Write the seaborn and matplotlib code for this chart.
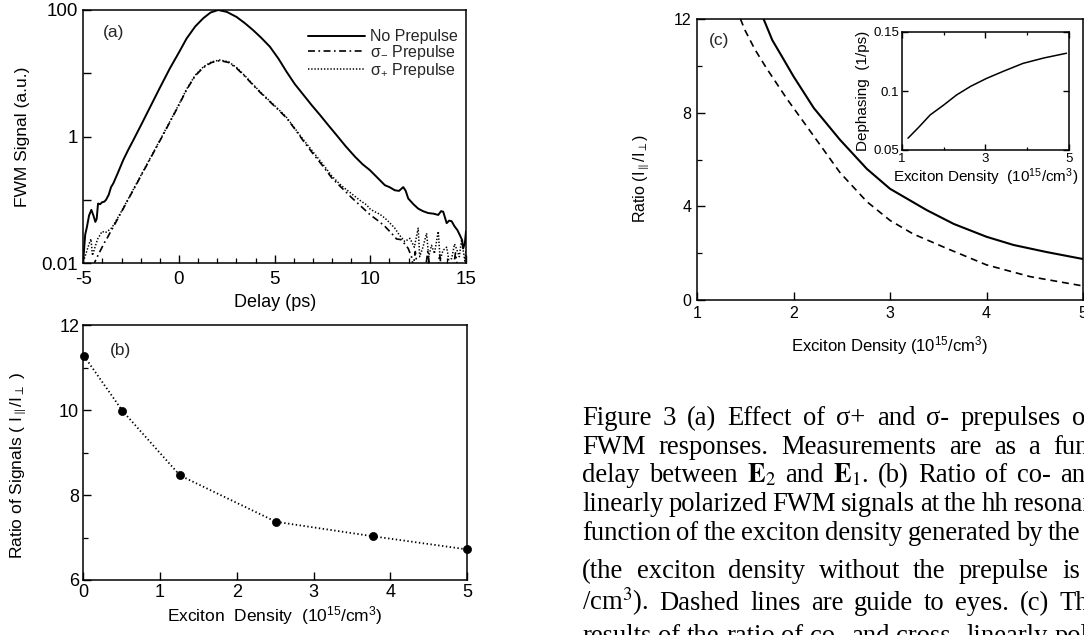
import numpy as np
import matplotlib
matplotlib.use("Agg")
import matplotlib.pyplot as plt
from matplotlib.ticker import FixedLocator, FixedFormatter, NullLocator
import seaborn as sns

# ---------------- (a) FWM signal versus delay (log10 of signal, a.u.) ----------------
delay_none = [-5.00, -4.98, -4.90, -4.81, -4.70, -4.58, -4.47, -4.37, -4.30, -4.23, -4.12, -4.02,
              -3.90, -3.81, -3.67, -3.55, -3.43, -3.20, -2.91, -2.65, -2.39, -2.00, -1.50, -1.00,
              -0.47, 0.00, 0.40, 0.85, 1.27, 1.65, 2.05, 2.50, 3.01, 3.45, 3.88, 4.30, 4.75, 5.20,
              5.63, 6.05, 6.50, 6.95, 7.37, 7.80, 8.24, 8.70, 9.20, 9.60, 9.97, 10.40, 10.76, 11.00,
              11.28, 11.50, 11.72, 11.85, 11.98, 12.25, 12.50, 12.75, 13.02, 13.30, 13.55, 13.70,
              13.81, 13.99, 14.12, 14.25, 14.40, 14.55, 14.68, 14.80, 14.85, 14.94, 15.00]
log_fwm_none = [-1.95, -1.87, -1.55, -1.43, -1.25, -1.16, -1.25, -1.35, -1.30, -1.06, -1.07, -1.04,
                -1.03, -1.00, -0.92, -0.80, -0.74, -0.58, -0.37, -0.21, -0.06, 0.17, 0.47, 0.77,
                1.08, 1.33, 1.55, 1.74, 1.87, 1.96, 2.00, 1.97, 1.89, 1.79, 1.68, 1.56, 1.42, 1.23,
                1.02, 0.83, 0.66, 0.49, 0.34, 0.18, 0.02, -0.15, -0.32, -0.44, -0.53, -0.66, -0.77, -0.80,
                -0.85, -0.86, -0.80, -0.86, -0.98, -1.07, -1.14, -1.18, -1.21, -1.22, -1.24, -1.18,
                -1.19, -1.37, -1.33, -1.34, -1.42, -1.48, -1.56, -1.64, -1.77, -1.69, -1.50]

delay_sminus = [-4.50, -4.30, -4.10, -3.90, -3.76, -3.60, -3.45, -3.00, -2.50, -2.00, -1.50, -1.00,
                -0.47, 0.00, 0.40, 0.85, 1.27, 1.70, 2.14, 2.60, 3.01, 3.45, 3.88, 4.30, 4.75, 5.20,
                5.63, 6.05, 6.50, 7.00, 7.50, 8.00, 8.50, 9.00, 9.50, 10.00, 10.40, 10.76, 11.20, 11.37,
                11.60, 11.80, 11.98, 12.15, 12.25, 12.35, 12.45, 12.90, 13.00, 13.10, 13.55, 13.62,
                13.70, 14.35, 14.45, 14.55, 15.00]
log_fwm_sminus = [-2.05, -1.92, -1.80, -1.68, -1.61, -1.52, -1.44, -1.19, -0.91, -0.63, -0.35, -0.07,
                  0.23, 0.50, 0.74, 0.96, 1.09, 1.17, 1.20, 1.17, 1.08, 0.95, 0.81, 0.68, 0.55, 0.42,
                  0.29, 0.12, -0.07, -0.27, -0.46, -0.66, -0.81, -0.96, -1.10, -1.24, -1.33, -1.42, -1.56, -1.62,
                  -1.63, -1.70, -1.77, -1.90, -2.05, -1.82, -2.05, -2.05, -1.82, -2.05, -2.05, -1.86,
                  -2.05, -2.05, -1.84, -2.05, -2.05]

delay_splus = [-5.00, -4.85, -4.70, -4.60, -4.52, -4.40, -4.25, -4.13, -4.02, -3.85, -3.70, -3.50,
               -3.00, -2.50, -2.00, -1.50, -1.00, -0.47, 0.00, 0.40, 0.85, 1.27, 1.70, 2.14, 2.60,
               3.01, 3.45, 3.88, 4.30, 4.75, 5.20, 5.63, 6.05, 6.50, 7.00, 7.50, 8.00, 8.50, 9.00,
               9.46, 9.80, 10.00, 10.30, 10.50, 10.76, 11.00, 11.28, 11.50, 11.80, 12.07, 12.30, 12.50,
               12.58, 12.75, 12.94, 13.05, 13.20, 13.35, 13.55, 13.65, 13.80, 13.99, 14.10, 14.25,
               14.40, 14.51, 14.65, 14.77, 14.94, 15.00]
log_fwm_splus = [-1.98, -1.84, -1.70, -1.62, -1.88, -1.76, -1.62, -1.56, -1.50, -1.52, -1.49, -1.44,
                 -1.18, -0.90, -0.62, -0.34, -0.06, 0.24, 0.51, 0.75, 0.97, 1.10, 1.18, 1.21, 1.18,
                 1.09, 0.96, 0.82, 0.69, 0.56, 0.43, 0.30, 0.13, -0.05, -0.24, -0.43, -0.63, -0.78, -0.90,
                 -1.01, -1.08, -1.15, -1.20, -1.23, -1.29, -1.36, -1.45, -1.55, -1.66, -1.61, -1.75, -1.45,
                 -1.90, -1.75, -1.53, -1.90, -1.72, -1.85, -1.50, -1.95, -1.80, -1.75, -1.95, -1.93,
                 -1.70, -1.78, -1.90, -1.63, -1.97, -1.80]

legend_labels = ["No Prepulse", r"σ$_{-}$ Prepulse", r"σ$_{+}$ Prepulse"]
delay_ticks = [-5, 0, 5, 10, 15]
signal_ticks = [0.01, 0.1, 1, 10, 100]
signal_ticklabels = ["0.01", "", "1", "", "100"]

# ---------------- (b) measured ratio of co- to cross-polarized signals ----------------
density_b = [0.01, 0.51, 1.26, 2.51, 3.77, 5.00]
ratio_b = [11.27, 9.98, 8.46, 7.37, 7.03, 6.72]

# ---------------- (c) calculated ratio and dephasing (inset) ----------------
density_c_solid = [1.69, 1.78, 1.88, 2.00, 2.21, 2.48, 2.76, 3.00, 3.38, 3.66, 4.00, 4.28, 4.62, 5.00]
ratio_c_solid = [12.0, 11.1, 10.4, 9.55, 8.2, 6.85, 5.6, 4.75, 3.84, 3.25, 2.7, 2.35, 2.05, 1.75]
density_c_dashed = [1.45, 1.50, 1.60, 1.72, 1.93, 2.21, 2.48, 2.76, 3.00, 3.24, 3.59, 4.00, 4.45, 5.00]
ratio_c_dashed = [12.0, 11.5, 10.7, 9.9, 8.6, 7.0, 5.45, 4.2, 3.4, 2.82, 2.2, 1.5, 1.0, 0.6]
density_inset = [1.15, 1.40, 1.68, 2.00, 2.31, 2.65, 3.03, 3.45, 3.90, 4.40, 4.94]
dephasing_inset = [0.060, 0.069, 0.0797, 0.088, 0.0966, 0.104, 0.1107, 0.117, 0.1234, 0.128, 0.132]

# caption, one list of words per printed line
caption_lines = [
    ["Figure", "3", "(a)", "Effect", "of", "σ+", "and", "σ-", "prepulses", "on", "the"],
    ["FWM", "responses.", "Measurements", "are", "as", "a", "function", "of", "the"],
    ["delay", "between", r"$\mathbf{E}_2$", "and", r"$\mathbf{E}_1$.", "(b)", "Ratio", "of", "co-",
     "and", "cross-"],
    ["linearly", "polarized", "FWM", "signals", "at", "the", "hh", "resonance", "as", "a"],
    ["function", "of", "the", "exciton", "density", "generated", "by", "the", "prepulse"],
    ["(the", "exciton", "density", "without", "the", "prepulse", "is"],
    [r"/cm$^3$).", "Dashed", "lines", "are", "guide", "to", "eyes.", "(c)", "The"],
    ["results", "of", "the", "ratio", "of", "co-", "and", "cross-", "linearly", "polarized"],
]

# ---------------- styling ----------------
sns.set_theme(style="ticks")
plt.rcParams.update({
    "font.family": ["Liberation Sans", "DejaVu Sans"],
    "mathtext.fontset": "custom",
    "mathtext.rm": "Liberation Sans",
    "mathtext.it": "Liberation Sans:italic",
    "mathtext.bf": "Liberation Sans:bold",
    "axes.unicode_minus": False,
    "axes.edgecolor": "black",
    "axes.linewidth": 1.1,
    "axes.labelcolor": "black",
    "xtick.color": "black",
    "ytick.color": "black",
    "xtick.direction": "in",
    "ytick.direction": "in",
    "xtick.major.size": 6,
    "ytick.major.size": 6,
    "xtick.minor.size": 3.5,
    "ytick.minor.size": 3.5,
    "xtick.major.width": 1.0,
    "ytick.major.width": 1.0,
    "xtick.minor.width": 0.9,
    "ytick.minor.width": 0.9,
    "lines.scale_dashes": False,
    "axes.facecolor": "white",
    "figure.facecolor": "white",
})

W, H = 1084, 635
fig = plt.figure(figsize=(W / 100, H / 100), dpi=100)


def frame(left, top, right, bottom):
    return [left / W, 1 - bottom / H, (right - left) / W, (bottom - top) / H]


# ---------------- panel (a) ----------------
ax_a = fig.add_axes(frame(83.3, 10, 466, 263))
sns.lineplot(x=delay_none, y=10 ** np.array(log_fwm_none), ax=ax_a, color="black", lw=1.4,
             estimator=None, sort=False, label=legend_labels[0])
sns.lineplot(x=delay_sminus, y=10 ** np.array(log_fwm_sminus), ax=ax_a, color="black", lw=1.2,
             estimator=None, sort=False, linestyle=(0, (5, 2.5, 1.2, 2.5)), label=legend_labels[1])
sns.lineplot(x=delay_splus, y=10 ** np.array(log_fwm_splus), ax=ax_a, color="black", lw=1.1,
             estimator=None, sort=False, linestyle=(0, (1.0, 1.3)), label=legend_labels[2])
ax_a.set_yscale("log")
ax_a.set_xlim(-5, 15)
ax_a.set_ylim(0.01, 100)
ax_a.yaxis.set_major_locator(FixedLocator(signal_ticks))
ax_a.yaxis.set_major_formatter(FixedFormatter(signal_ticklabels))
ax_a.yaxis.set_minor_locator(NullLocator())
ax_a.xaxis.set_major_locator(FixedLocator(delay_ticks))
ax_a.xaxis.set_minor_locator(FixedLocator(list(range(-5, 16))))
ax_a.tick_params(labelsize=13.5)
ax_a.tick_params(axis="x", pad=6)
ax_a.tick_params(axis="y", pad=4)
ax_a.set_xlabel("Delay (ps)", fontsize=13, labelpad=4)
ax_a.set_ylabel("FWM Signal (a.u.)", fontsize=12.5, labelpad=8)
ax_a.text(0.05, 0.94, "(a)", transform=ax_a.transAxes, fontsize=12.5, va="top")
handles, labels = ax_a.get_legend_handles_labels()
ax_a.legend(handles, labels, loc="upper right", bbox_to_anchor=(1.008, 0.968), frameon=False,
            fontsize=11.5, handlelength=3.6, handletextpad=0.3, labelspacing=-0.08,
            borderaxespad=0.3)

# ---------------- panel (b) ----------------
ax_b = fig.add_axes(frame(83.3, 325, 467, 580))
sns.lineplot(x=density_b, y=ratio_b, ax=ax_b, color="black", lw=1.3, estimator=None, sort=False,
             linestyle=(0, (1.0, 1.8)))
sns.scatterplot(x=density_b, y=ratio_b, ax=ax_b, color="black", s=34, edgecolor="black",
                linewidth=0.5, zorder=5, clip_on=False)
ax_b.set_xlim(0, 5)
ax_b.set_ylim(6, 12)
ax_b.xaxis.set_major_locator(FixedLocator([0, 1, 2, 3, 4, 5]))
ax_b.yaxis.set_major_locator(FixedLocator([6, 8, 10, 12]))
ax_b.yaxis.set_minor_locator(FixedLocator([7, 9, 11]))
ax_b.tick_params(labelsize=13, pad=3)
ax_b.set_xlabel(r"Exciton  Density  (10$^{15}$/cm$^{3}$)", fontsize=12.5, labelpad=2)
ax_b.set_ylabel(r"Ratio of Signals ( I$_{\parallel}$/I$_{\perp}$ )", fontsize=12.5)
ax_b.yaxis.set_label_coords(-0.142, 0.451)
ax_b.text(0.07, 0.93, "(b)", transform=ax_b.transAxes, fontsize=12.5, va="top")

# ---------------- panel (c) ----------------
ax_c = fig.add_axes(frame(697, 19, 1083, 300))
sns.lineplot(x=density_c_solid, y=ratio_c_solid, ax=ax_c, color="black", lw=1.5,
             estimator=None, sort=False)
sns.lineplot(x=density_c_dashed, y=ratio_c_dashed, ax=ax_c, color="black", lw=1.2,
             estimator=None, sort=False, linestyle=(0, (5, 3.5)))
ax_c.set_xlim(1, 5)
ax_c.set_ylim(0, 12)
ax_c.xaxis.set_major_locator(FixedLocator([1, 2, 3, 4, 5]))
ax_c.yaxis.set_major_locator(FixedLocator([0, 4, 8, 12]))
ax_c.yaxis.set_minor_locator(FixedLocator([2, 6, 10]))
ax_c.tick_params(labelsize=11.5, pad=4)
ax_c.set_xlabel(r"Exciton Density (10$^{15}$/cm$^{3}$)", fontsize=12, labelpad=10)
ax_c.set_ylabel(r"Ratio (I$_{\parallel}$/I$_{\perp}$)", fontsize=11.5)
ax_c.yaxis.set_label_coords(-0.12, 0.434)
ax_c.text(0.03, 0.95, "(c)", transform=ax_c.transAxes, fontsize=12.5, va="top")

# inset: dephasing rate
ax_i = fig.add_axes(frame(901.7, 32, 1069, 150))
sns.lineplot(x=density_inset, y=dephasing_inset, ax=ax_i, color="black", lw=1.1,
             estimator=None, sort=False)
ax_i.set_xlim(1, 5)
ax_i.set_ylim(0.05, 0.15)
ax_i.xaxis.set_major_locator(FixedLocator([1, 3, 5]))
ax_i.xaxis.set_minor_locator(FixedLocator([2, 4]))
ax_i.yaxis.set_major_locator(FixedLocator([0.05, 0.1, 0.15]))
ax_i.yaxis.set_major_formatter(FixedFormatter(["0.05", "0.1", "0.15"]))
ax_i.tick_params(which="both", top=True, right=True, labelsize=9.5, pad=2, length=4)
ax_i.tick_params(which="minor", length=2.5)
ax_i.set_xlabel(r"Exciton Density  (10$^{15}$/cm$^{3}$)", fontsize=11, labelpad=1)
ax_i.set_ylabel("Dephasing  (1/ps)", fontsize=11, labelpad=2)

# ---------------- caption (justified lines, words placed across the column) ----------------
serif = ["Liberation Serif", "DejaVu Serif"]
cap_kw = dict(fontsize=19.2, family=serif, math_fontfamily="stix", va="baseline",
              ha="left", color="black")
baselines = [425, 453.5, 482, 511, 540.5, 578, 610, 643]
# (index of a word, pixel where that word starts) fixes the word spacing of each line
anchors = [(9, 1072), (6, 1053), (9, 1060), (7, 1013), (7, 1048), (6, 1062), (8, 1060), None]
renderer = fig.canvas.get_renderer()


def word_width(word):
    t = fig.text(0, 0, word, **cap_kw)
    w = t.get_window_extent(renderer).width
    t.remove()
    return w


x0 = 582
for words, base, anchor in zip(caption_lines, baselines, anchors):
    widths = [word_width(w) for w in words]
    if anchor is None:
        gap = 0.25 * 19.2 * 100 / 72
    else:
        k, xk = anchor
        gap = (xk - x0 - sum(widths[:k])) / k
    x = x0
    for word, w in zip(words, widths):
        fig.text(x / W, 1 - base / H, word, **cap_kw)
        x += w + gap

fig.savefig("out.png", dpi=100)
